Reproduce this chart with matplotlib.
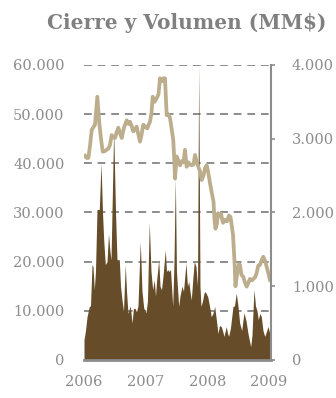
import matplotlib
matplotlib.use("Agg")
import matplotlib.pyplot as plt
from matplotlib.ticker import FuncFormatter

# volumen (eje izq.) - fechas en años decimales
vol_t = [0.000, 0.024, 0.049, 0.086, 0.105, 0.130, 0.146, 0.167, 0.186, 0.211,
         0.248, 0.276, 0.300, 0.319, 0.345, 0.373, 0.397, 0.421, 0.438, 0.481,
         0.511, 0.535, 0.572, 0.592, 0.616, 0.640, 0.669, 0.689, 0.713, 0.750,
         0.778, 0.802, 0.827, 0.851, 0.875, 0.912, 0.940, 0.968, 1.005, 1.029,
         1.058, 1.086, 1.113, 1.139, 1.159, 1.178, 1.211, 1.232, 1.256, 1.280,
         1.318, 1.337, 1.357, 1.378, 1.402, 1.438, 1.459, 1.480, 1.499, 1.535,
         1.556, 1.588, 1.613, 1.653, 1.677, 1.697, 1.718, 1.739, 1.767, 1.788,
         1.815, 1.840, 1.859, 1.880, 1.896, 1.921, 1.945, 1.966, 2.005, 2.034,
         2.063, 2.091, 2.118, 2.147, 2.172, 2.196, 2.225, 2.245, 2.269, 2.306,
         2.326, 2.345, 2.374, 2.415, 2.439, 2.468, 2.496, 2.523, 2.556, 2.593,
         2.626, 2.658, 2.702, 2.723, 2.755, 2.780, 2.804, 2.825, 2.852, 2.874,
         2.901, 2.929, 2.950, 2.982, 3.010, 3.031]
volumen = [4100, 6000, 8800, 10900, 11000, 19400, 19000, 14300, 18000, 30600,
           30600, 40100, 30000, 24500, 19400, 20000, 25700, 22000, 20400, 46900,
           30000, 20400, 20400, 15000, 12200, 10000, 19400, 14000, 9500, 11000,
           7500, 10500, 10500, 9800, 11000, 24100, 14000, 10600, 9600, 12000,
           28000, 18000, 14300, 16300, 13000, 16300, 20400, 15000, 14300, 17000,
           22400, 18000, 18400, 18000, 18400, 10900, 20000, 37000, 18000, 10900,
           13000, 15000, 14000, 19700, 15000, 16000, 14000, 12200, 17000, 20000,
           19000, 15000, 60000, 15000, 10900, 12000, 13600, 13900, 12900, 11000,
           8800, 9500, 10900, 8000, 5400, 7000, 6800, 6000, 4800, 6800,
           5500, 4800, 6500, 10900, 11000, 13600, 11000, 7500, 6000, 9600,
           8000, 5400, 2700, 5000, 14300, 11000, 10000, 8200, 9500, 8800,
           6000, 4800, 5500, 6800, 5500, 6000]

# cierre (eje der.)
cie_t = [0.016, 0.041, 0.070, 0.097, 0.125, 0.178, 0.216, 0.248, 0.276, 0.303,
         0.332, 0.368, 0.397, 0.421, 0.449, 0.470, 0.502, 0.535, 0.556, 0.583,
         0.611, 0.648, 0.692, 0.721, 0.746, 0.770, 0.799, 0.827, 0.854, 0.883,
         0.908, 0.932, 0.961, 0.997, 1.026, 1.053, 1.070, 1.094, 1.113, 1.143,
         1.178, 1.207, 1.232, 1.264, 1.288, 1.313, 1.340, 1.370, 1.394, 1.418,
         1.447, 1.464, 1.475, 1.502, 1.532, 1.556, 1.588, 1.613, 1.637, 1.664,
         1.694, 1.718, 1.746, 1.775, 1.799, 1.823, 1.853, 1.880, 1.908, 1.937,
         1.961, 1.989, 2.010, 2.042, 2.075, 2.099, 2.115, 2.131, 2.156, 2.172,
         2.196, 2.220, 2.253, 2.285, 2.318, 2.350, 2.374, 2.399, 2.415, 2.439,
         2.455, 2.488, 2.512, 2.528, 2.553, 2.582, 2.609, 2.637, 2.666, 2.690,
         2.723, 2.747, 2.771, 2.796, 2.825, 2.853, 2.877, 2.906, 2.934, 2.961,
         2.990, 3.015]
cierre = [2770, 2740, 2740, 2900, 3120, 3190, 3570, 3210, 3000, 2825,
          2830, 2850, 2870, 2915, 3050, 3020, 3010, 3100, 3150, 3080,
          3010, 3150, 3250, 3200, 3230, 3180, 3100, 3130, 3165, 3050,
          2960, 3050, 3190, 3160, 3140, 3200, 3230, 3350, 3570, 3500,
          3550, 3600, 3820, 3780, 3820, 3820, 3320, 3330, 3280, 3150,
          2980, 2700, 2460, 2760, 2700, 2640, 2700, 2680, 2850, 2620,
          2680, 2650, 2640, 2650, 2780, 2700, 2620, 2560, 2440, 2500,
          2600, 2640, 2560, 2400, 2250, 2150, 1900, 1780, 1850, 1990,
          1950, 1980, 1860, 1900, 1880, 1960, 1940, 1800, 1700, 1350,
          1000, 1200, 1300, 1290, 1150, 1130, 1050, 995, 1050, 1100,
          1080, 1100, 1120, 1170, 1280, 1290, 1350, 1400, 1350, 1265,
          1170, 1085]

anios = [2006, 2007, 2008, 2009]

GRIS = "#8c8c8c"
CAFE = "#664c28"
BEIGE = "#bcae8c"

vol_x = [2006 + t for t in vol_t]
cie_x = [2006 + t for t in cie_t]

def miles(v, pos):
    return f"{v:,.0f}".replace(",", ".")

fig = plt.figure(figsize=(3.36, 3.98), dpi=100)
ax = fig.add_axes([0.25, 0.0955, 0.5565, 0.7412])

ax.fill_between(vol_x, volumen, 0, color=CAFE, lw=0, zorder=2)
ax.set_ylim(0, 60000)
ax.set_xlim(2006.0, 2009.031)
ax.set_yticks(range(0, 60001, 10000))
ax.yaxis.set_major_formatter(FuncFormatter(miles))
ax.grid(axis="y", color=GRIS, ls=(0, (4, 3)), lw=1.4, zorder=0)
ax.set_axisbelow(True)
ax.set_xticks(anios)
ax.set_xticklabels([str(a) for a in anios])
for s in ["left", "top", "right"]:
    ax.spines[s].set_visible(False)
ax.spines["bottom"].set_color(GRIS)
ax.spines["bottom"].set_linewidth(2)
ax.tick_params(axis="y", length=0, colors=GRIS, labelsize=10.5, pad=14)
ax.tick_params(axis="x", length=0, colors=GRIS, labelsize=10.5, pad=11)

ax2 = ax.twinx()
ax2.plot(cie_x, cierre, color=BEIGE, lw=2.7, solid_joinstyle="round")
ax2.set_ylim(0, 4000)
ax2.set_yticks(range(0, 4001, 1000))
ax2.yaxis.set_major_formatter(FuncFormatter(miles))
for s in ["left", "top", "bottom"]:
    ax2.spines[s].set_visible(False)
ax2.spines["right"].set_color(GRIS)
ax2.spines["right"].set_linewidth(1.5)
ax2.tick_params(axis="y", length=3, width=1.2, colors=GRIS, labelsize=10.5, pad=12)

for a in (ax, ax2):
    for lab in a.get_xticklabels() + a.get_yticklabels():
        lab.set_family("DejaVu Serif")

fig.text(0.557, 0.943, "Cierre y Volumen (MM$)", ha="center", va="center",
         fontsize=14.5, fontweight="bold", color="#808080", family="DejaVu Serif")

fig.savefig("out.png", dpi=100)
